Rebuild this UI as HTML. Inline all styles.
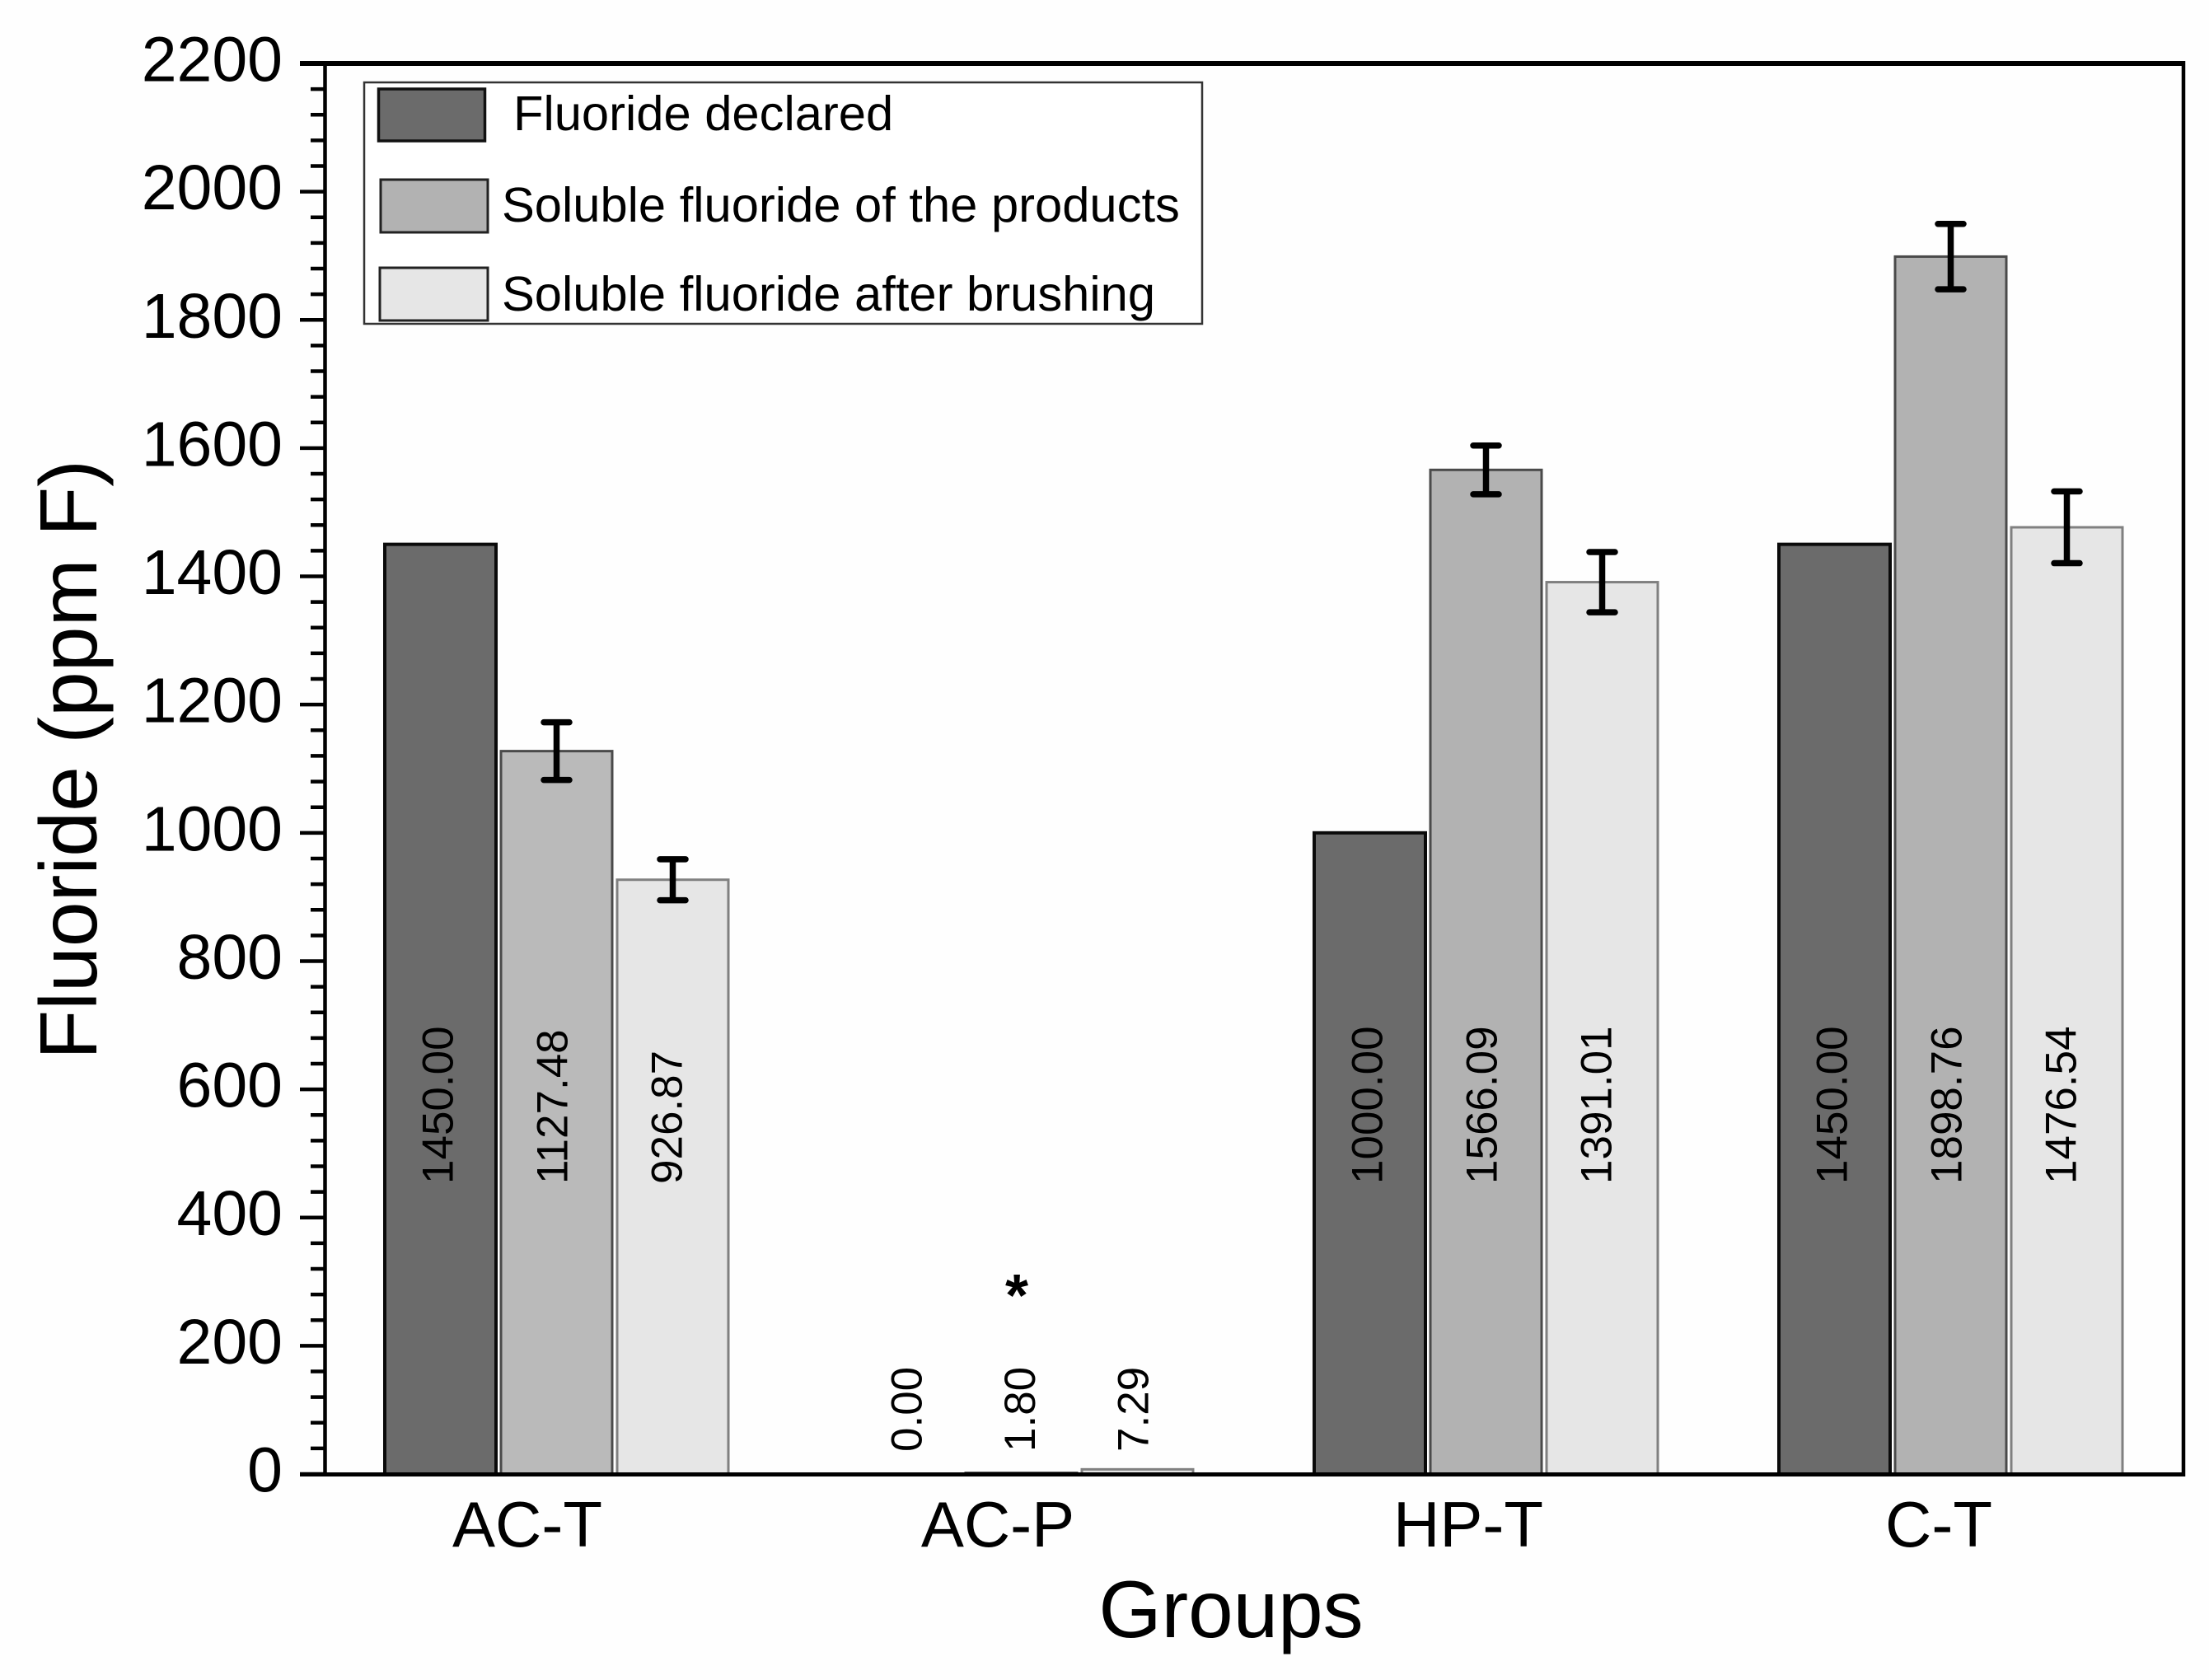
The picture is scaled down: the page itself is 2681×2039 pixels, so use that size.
<!DOCTYPE html>
<html lang="en">
<head>
<meta charset="utf-8">
<title>Fluoride by group</title>
<style>
  html, body { margin: 0; padding: 0; background: #fefefe; }
  svg { display: block; font-family: "Liberation Sans", Arial, sans-serif; }
</style>
</head>
<body>
<svg id="chart" xmlns="http://www.w3.org/2000/svg" width="2681" height="2039" viewBox="0 0 2681 2039">
  <rect x="0" y="0" width="2681" height="2039" fill="#fefefe"/>
  <g id="bars"></g>
  <g id="errors"></g>
  <g id="value-labels"></g>
  <g id="axes">
    <line x1="394.5" y1="77" x2="394.5" y2="1789" stroke="#000" stroke-width="4.5"/>
    <line x1="2650" y1="74" x2="2650" y2="1792" stroke="#000" stroke-width="4.5"/>
    <line x1="364" y1="77" x2="2652" y2="77" stroke="#000" stroke-width="6"/>
    <line x1="364" y1="1789.5" x2="2652" y2="1789.5" stroke="#000" stroke-width="5"/>
  </g>
  <text x="1234" y="1597" font-size="72" font-weight="bold" text-anchor="middle" fill="#000">*</text>
  <text transform="translate(117,1286) rotate(-90)" font-size="98.5" fill="#000">Fluoride (ppm F)</text>
  <text x="1494" y="1987" font-size="98" text-anchor="middle" fill="#000">Groups</text>
  <g>
    <rect x="442" y="100" width="1017" height="293" fill="#ffffff" stroke="#333" stroke-width="2.5"/>
    <rect x="459.5" y="108" width="129" height="63" fill="#6b6b6b" stroke="#111" stroke-width="3.5"/>
    <text x="623" y="158" font-size="59.7" fill="#000">Fluoride declared</text>
    <rect x="462" y="218" width="130" height="64" fill="#b2b2b2" stroke="#222" stroke-width="3"/>
    <text x="609" y="269" font-size="59.7" fill="#000">Soluble fluoride of the products</text>
    <rect x="461" y="325" width="131" height="64" fill="#e6e6e6" stroke="#222" stroke-width="3"/>
    <text x="609" y="377" font-size="59.7" fill="#000">Soluble fluoride after brushing</text>
  </g>
</svg>
<script>
const categories = ['AC-T', 'AC-P', 'HP-T', 'C-T'];
const fluorideDeclared = [1450.00, 0.00, 1000.00, 1450.00];
const solubleProducts = [1127.48, 1.80, 1566.09, 1898.76];
const solubleAfterBrushing = [926.87, 7.29, 1391.01, 1476.54];
const errorDeclared = [0, 0, 0, 0];
const errorProducts = [45, 0, 38, 51];
const errorAfterBrushing = [32, 0, 47, 56];
const yTickLabels = ['0', '200', '400', '600', '800', '1000', '1200', '1400', '1600', '1800', '2000', '2200'];
const yMinorStep = 40;

const NS = 'http://www.w3.org/2000/svg';
const series = [
  { key: 'declared', values: fluorideDeclared, errors: errorDeclared, fill: '#6b6b6b', stroke: '#0a0a0a', width: 4 },
  { key: 'products', values: solubleProducts, errors: errorProducts, fill: '#b2b2b2', stroke: '#4a4a4a', width: 3 },
  { key: 'after-brushing', values: solubleAfterBrushing, errors: errorAfterBrushing, fill: '#e6e6e6', stroke: '#808080', width: 3 }
];

function yScale(v) { return 1789 - v * (1712 / 2200); }
function barLeft(g, s) { return 467 + 564 * g + 141 * s; }
const barWidth = 135;
function categoryLabelX(g) { return 640 + 571 * g; }

function mk(parent, tag, attrs) {
  const el = document.createElementNS(NS, tag);
  for (const k in attrs) el.setAttribute(k, attrs[k]);
  parent.appendChild(el);
  return el;
}

const barsG = document.getElementById('bars');
const errG = document.getElementById('errors');
const labG = document.getElementById('value-labels');
const axesG = document.getElementById('axes');

categories.forEach(function (cat, g) {
  series.forEach(function (s, i) {
    const v = s.values[g];
    const left = barLeft(g, i);
    const top = yScale(v);
    if (v > 0) {
      const fill = (g === 0 && i === 1) ? '#bababa' : s.fill;
      const bar = mk(barsG, 'rect', { x: left, y: top, width: barWidth, height: 1789 - top, fill: fill, stroke: s.stroke, 'stroke-width': s.width });
      
      
    }
    const err = s.errors[g];
    if (err > 0) {
      const cx = left + barWidth / 2;
      const yHi = yScale(v + err);
      const yLo = yScale(v - err);
      const eb = mk(errG, 'path', {
        d: 'M' + (cx - 15.5) + ' ' + yHi + 'H' + (cx + 15.5) + 'M' + cx + ' ' + yHi + 'V' + yLo + 'M' + (cx - 15.5) + ' ' + yLo + 'H' + (cx + 15.5),
        fill: 'none', stroke: '#000', 'stroke-width': 7.5, 'stroke-linecap': 'round'
      });
      
      
    }
    const small = v < 100;
    const lx = left + barWidth / 2 + (small ? 20 - 3.5 * i : 15 - 2 * i);
    const ly = small ? 1762 : 1437;
    const lab = mk(labG, 'text', { transform: 'translate(' + lx + ',' + ly + ') rotate(-90)', 'font-size': 53, fill: '#000' });
    lab.textContent = v.toFixed(2);
    
    
  });
  const xl = mk(axesG, 'text', { x: categoryLabelX(g), y: 1877, 'font-size': 78, 'text-anchor': 'middle', fill: '#000' });
  xl.textContent = cat;
  
  
});

yTickLabels.forEach(function (t) {
  const v = Number(t);
  const y = yScale(v);
  const tick = mk(axesG, 'line', { x1: 364, x2: 394, y1: y, y2: y, stroke: '#000', 'stroke-width': 4.5 });
  
  
  const lab = mk(axesG, 'text', { x: 343, y: y + 21.5, 'font-size': 77, 'text-anchor': 'end', fill: '#000' });
  lab.textContent = t;
  
  
});

const yMax = Number(yTickLabels[yTickLabels.length - 1]);
const majorStep = Number(yTickLabels[1]);
for (let v = 0; v < yMax; v += yMinorStep) {
  if (v % majorStep === 0) continue;
  const y = yScale(v);
  const minor = mk(axesG, 'line', { x1: 377, x2: 394, y1: y, y2: y, stroke: '#000', 'stroke-width': 4.5 });
  
  
}
</script>
</body>
</html>
